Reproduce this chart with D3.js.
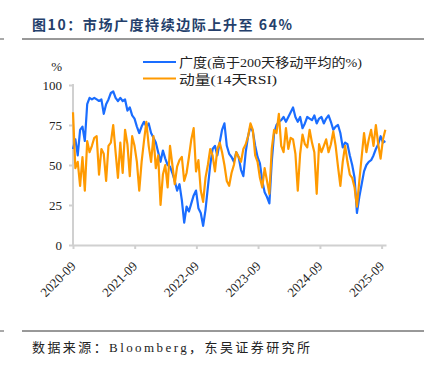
<!DOCTYPE html>
<html>
<head>
<meta charset="utf-8">
<script src="https://cdn.jsdelivr.net/npm/d3@7"></script>
<style>
  html, body { margin: 0; padding: 0; background: #fff; }
  .vis { width: 431px; height: 365px; }
  text { font-family: "Liberation Serif", "Noto Sans CJK SC", serif; }
</style>
</head>
<body>
<div class="vis"></div>
<script>
(function() {
  'use strict';

  // biweekly readings starting 2020-09-01
  var startDate = '2020-09-01',
    stepDays = 14;

  // 广度(高于200天移动平均的%)
  var breadth = [
    60, 66, 56, 72, 74, 65, 88, 92, 91, 92, 91, 90, 91, 82, 88, 91, 95, 96, 92, 90,
    92, 90, 91, 84, 86, 81, 79, 74, 70, 74, 77, 74, 76, 70, 67, 64, 58, 52, 59, 54,
    50, 49, 45, 40, 34, 38, 28, 14, 24, 21, 26, 31, 34, 23, 20, 12, 22, 36, 50, 60,
    62, 56, 64, 72, 76, 62, 57, 55, 52, 58, 55, 47, 43, 58, 68, 74, 71, 62, 55, 51,
    40, 33, 30, 26, 52, 70, 75, 77, 78, 80, 77, 80, 83, 86, 80, 77, 80, 73, 76, 80,
    79, 78, 81, 76, 79, 80, 76, 79, 81, 77, 72, 74, 75, 70, 61, 64, 63, 56, 50, 42,
    20, 30, 38, 46, 50, 52, 53, 56, 60, 63, 68, 64, 65
  ];

  // 动量(14天RSI)
  var rsi = [
    83, 48, 52, 37, 55, 34, 65, 58, 62, 67, 68, 44, 60, 57, 40, 62, 64, 75, 58, 42,
    64, 45, 72, 63, 43, 68, 62, 52, 34, 52, 65, 77, 62, 52, 68, 48, 56, 25, 44, 50,
    36, 62, 50, 38, 49, 53, 55, 40, 45, 55, 66, 73, 46, 53, 34, 27, 42, 50, 60, 56,
    46, 60, 64, 58, 50, 40, 37, 45, 50, 58, 55, 52, 60, 63, 68, 76, 72, 56, 52, 42,
    36, 48, 40, 32, 60, 72, 70, 82, 62, 58, 73, 60, 67, 66, 57, 34, 57, 69, 63, 61,
    72, 64, 58, 32, 63, 58, 62, 66, 58, 63, 71, 62, 49, 37, 52, 62, 52, 44, 42, 36,
    24, 40, 55, 70, 58, 66, 72, 62, 75, 63, 54, 66, 72
  ];

  var xTickLabels = ['2020-09', '2021-09', '2022-09', '2023-09', '2024-09', '2025-09'];
  var yTickValues = [0, 25, 50, 75, 100];

  var seriesNames = ['广度(高于200天移动平均的%)', '动量(14天RSI)'];
  var seriesColors = ['#1a6dff', '#ff9a00'];

  var el = d3.select('.vis'),
    elWidth = 431,
    elHeight = 365,
    margin = {top: 85, right: 45, bottom: 120, left: 73},
    width = 313,
    height = 160;

  var svg = el.append('svg')
    .attr('width', elWidth)
    .attr('height', elHeight);

  var parseDay = d3.timeParse('%Y-%m-%d'),
    parseMonth = d3.timeParse('%Y-%m'),
    t0 = parseDay(startDate);

  var dates = d3.range(breadth.length).map(function(i) {
    return d3.timeDay.offset(t0, i * stepDays);
  });

  var x = d3.scaleTime()
    .domain([t0, parseDay('2025-09-27')])
    .range([margin.left, margin.left + width]);

  var y = d3.scaleLinear()
    .domain([0, 100])
    .range([margin.top + height, margin.top]);

  // header and footer rules
  svg.append('text')
    .attr('x', 32)
    .attr('y', 30)
    .attr('textLength', 260)
    .attr('lengthAdjust', 'spacing')
    .style('font-family', '"Noto Sans CJK SC", sans-serif')
    .style('font-weight', 'bold')
    .style('font-size', '14px')
    .style('fill', '#243f6b')
    .text('图10：市场广度持续边际上升至 64%');

  [39, 331].forEach(function(ly) {
    svg.append('line')
      .attr('x1', 22).attr('x2', 424)
      .attr('y1', ly).attr('y2', ly)
      .style('stroke', '#333').style('stroke-width', 1);
    svg.append('line')
      .attr('x1', 0).attr('x2', 4)
      .attr('y1', ly).attr('y2', ly)
      .style('stroke', '#555').style('stroke-width', 1);
  });

  svg.append('text')
    .attr('x', 32)
    .attr('y', 352)
    .attr('textLength', 278)
    .attr('lengthAdjust', 'spacing')
    .style('font-size', '13px')
    .style('fill', '#222')
    .text('数据来源：Bloomberg，东吴证券研究所');

  // axes
  var yAxis = d3.axisLeft(y)
    .tickValues(yTickValues)
    .tickSize(4)
    .tickPadding(7);

  var gy = svg.append('g')
    .attr('transform', 'translate(' + margin.left + ',0)')
    .call(yAxis);

  var xAxis = d3.axisBottom(x)
    .tickValues(xTickLabels.map(parseMonth))
    .tickFormat(d3.timeFormat('%Y-%m'))
    .tickSize(4)
    .tickSizeOuter(0);

  var gx = svg.append('g')
    .attr('transform', 'translate(0,' + (margin.top + height) + ')')
    .call(xAxis);

  gy.select('.domain').attr('d', 'M0,' + (margin.top - 1) + 'V' + (margin.top + height));
  [gx, gy].forEach(function(g) {
    g.selectAll('.domain, line')
      .style('stroke', '#d0d0d0')
      .style('stroke-width', 2);
    g.selectAll('text')
      .style('font-family', '"Liberation Serif", serif')
      .style('font-size', '13px')
      .style('fill', '#222');
  });

  gx.selectAll('text')
    .attr('text-anchor', 'end')
    .attr('dy', 0)
    .attr('y', 0)
    .attr('transform', 'translate(3,22) rotate(-45)');

  svg.append('text')
    .attr('x', 62)
    .attr('y', 71)
    .attr('text-anchor', 'end')
    .style('font-size', '13px')
    .style('fill', '#222')
    .text('%');

  // lines
  var line = d3.line()
    .x(function(d, i) { return x(dates[i]); })
    .y(function(d) { return y(d); });

  [breadth, rsi].forEach(function(series, k) {
    svg.append('path')
      .datum(series)
      .attr('d', line)
      .style('fill', 'none')
      .style('stroke', seriesColors[k])
      .style('stroke-width', 2.2)
      .style('stroke-linejoin', 'round');
  });

  // legend
  var legend = svg.selectAll('.legend')
    .data(seriesNames)
    .enter()
    .append('g')
      .attr('class', 'legend')
      .attr('transform', function(d, i) {
        return 'translate(143,' + (62 + i * 16.5) + ')';
      });

  legend.append('line')
    .attr('x1', 0).attr('x2', 33)
    .style('stroke', function(d, i) { return seriesColors[i]; })
    .style('stroke-width', 2);

  legend.append('text')
    .attr('x', 36)
    .attr('y', 5)
    .attr('textLength', function(d, i) { return i === 0 ? 183 : 98; })
    .attr('lengthAdjust', 'spacingAndGlyphs')
    .style('font-size', '13px')
    .style('fill', '#222')
    .text(function(d) { return d; });
}());
</script>
</body>
</html>
